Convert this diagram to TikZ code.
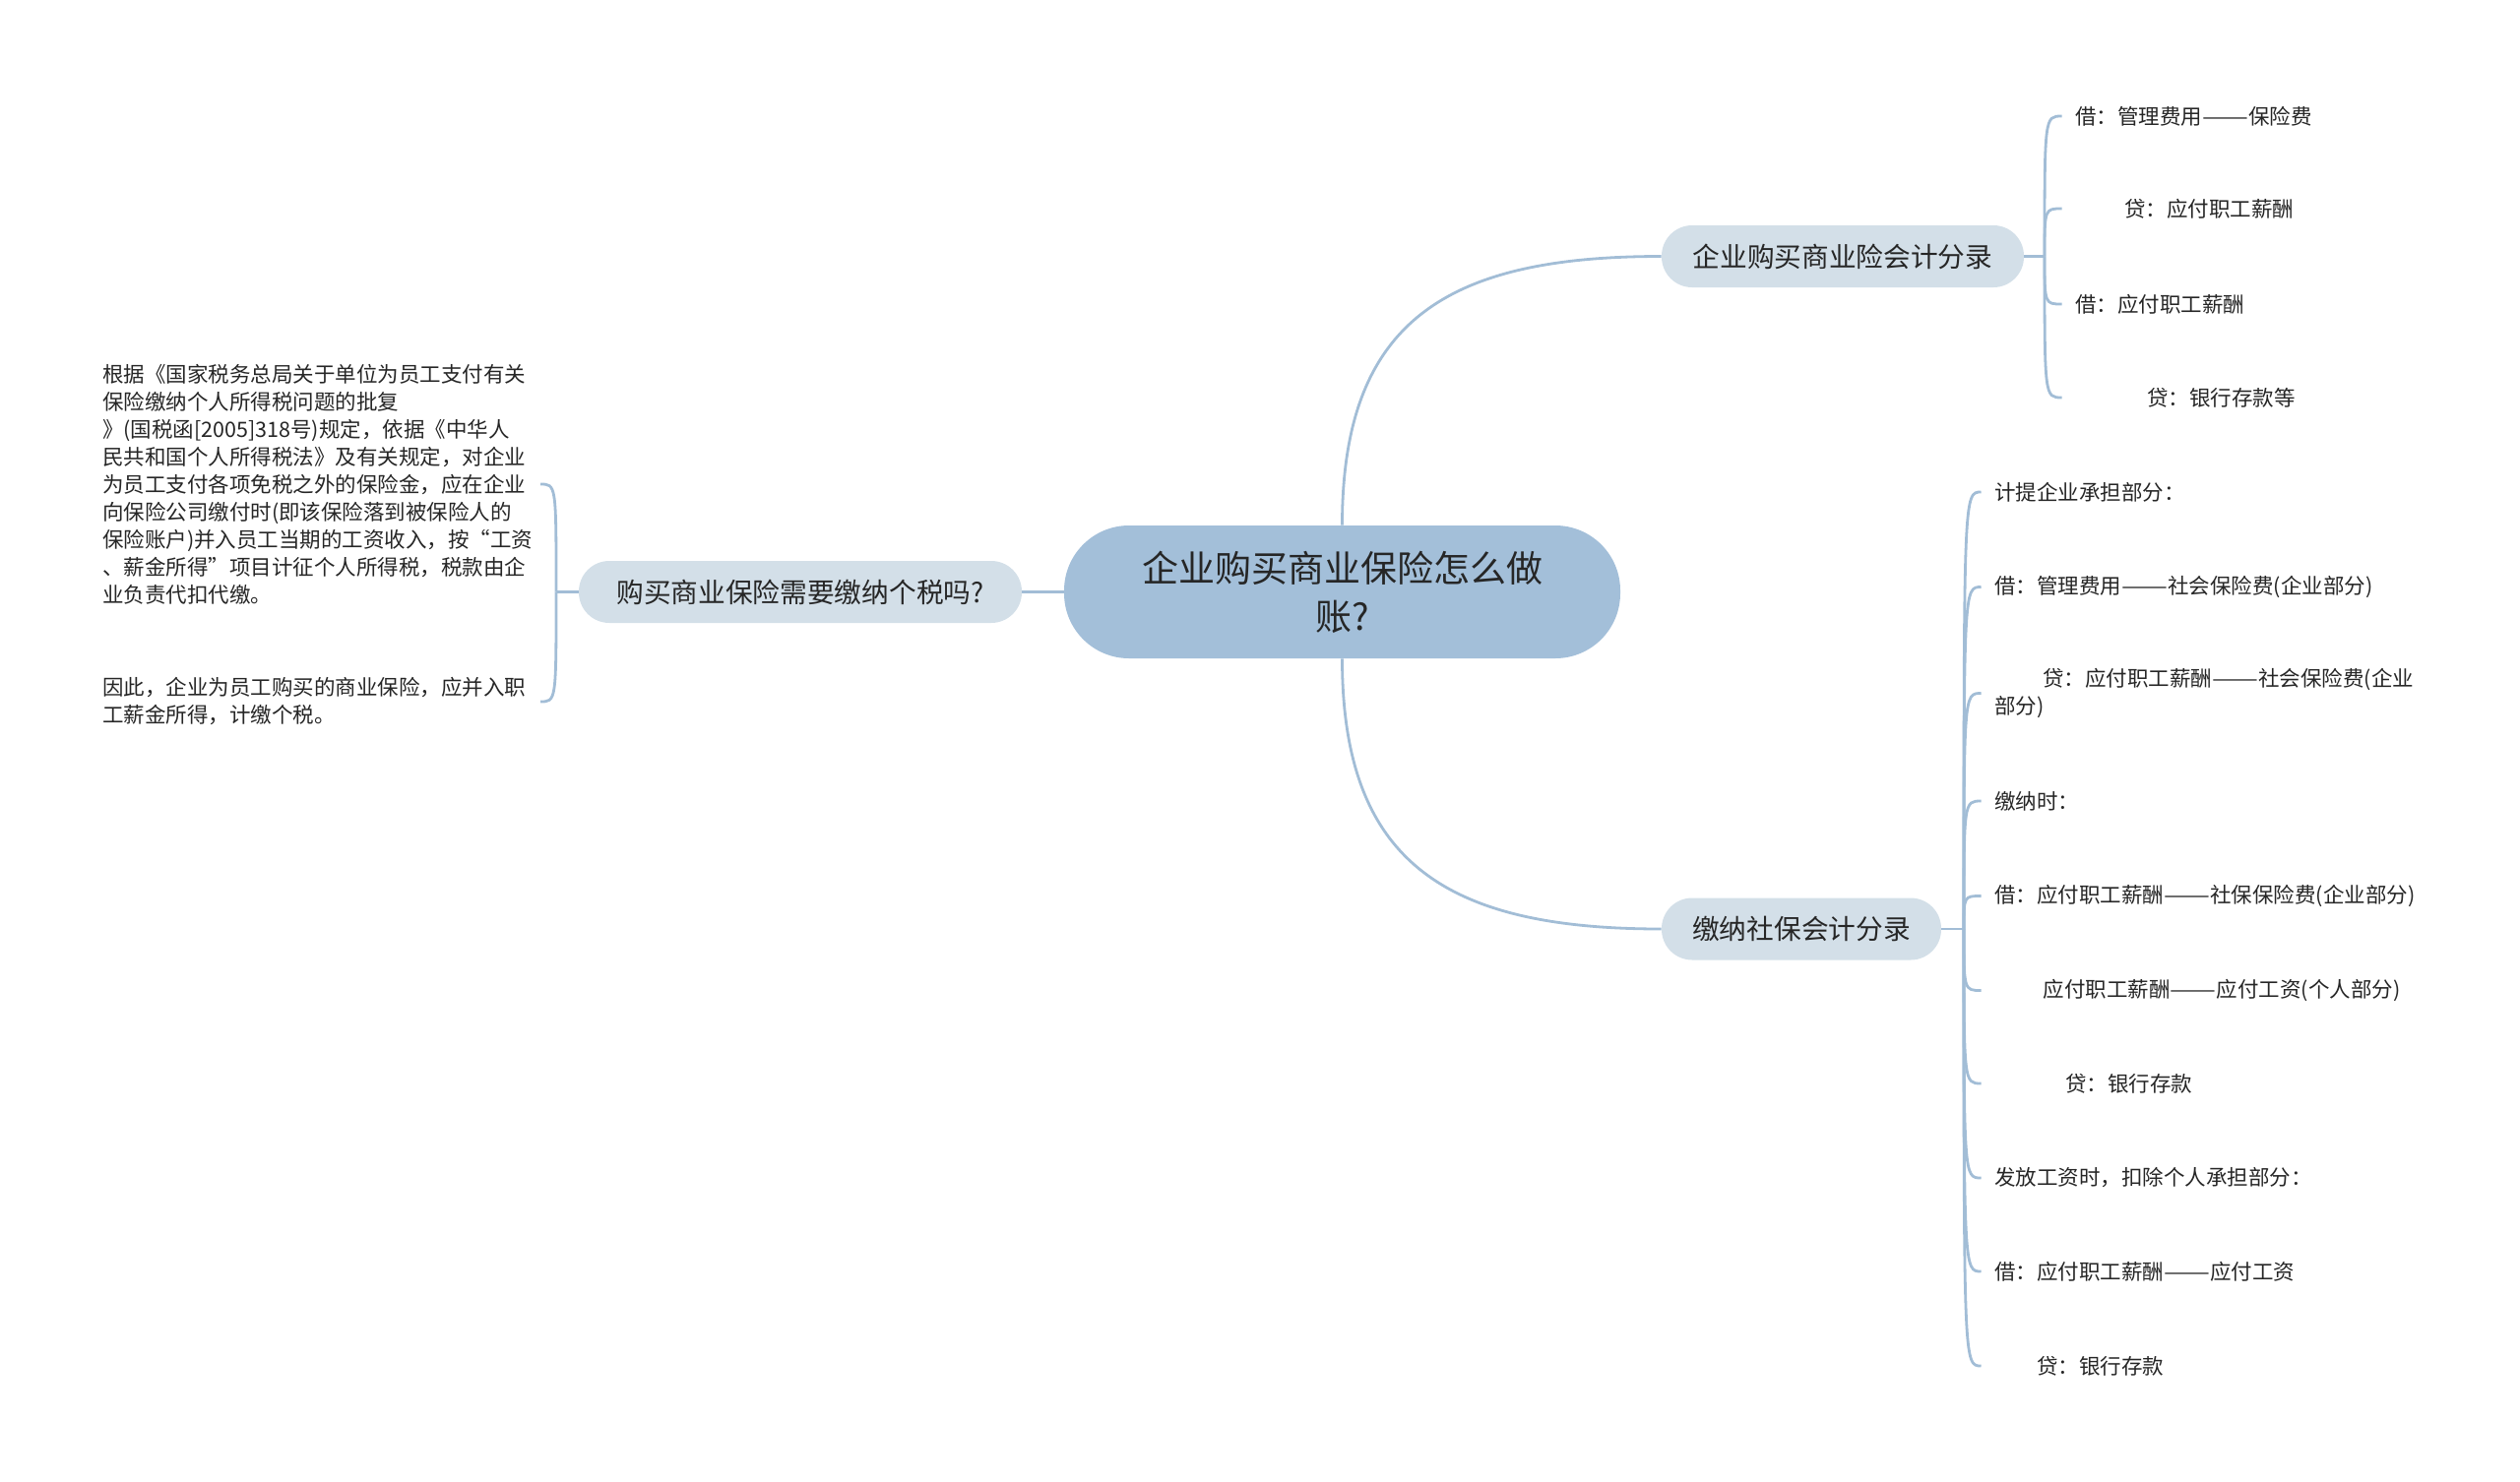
\documentclass[tikz,border=0pt]{standalone}
\usepackage{fontspec}
\usepackage{graphicx}
\setmainfont{Noto Sans CJK SC}
\newcommand{\dd}{\scalebox{1.3}[1]{——}}
\definecolor{linec}{HTML}{A2BDD6}
\definecolor{rootc}{HTML}{A3BFD9}
\definecolor{brc}{HTML}{D3DFE8}
\definecolor{txt}{HTML}{262626}
\begin{document}
\begin{tikzpicture}[x=0.5pt,y=-0.5pt,
  conn/.style={draw=linec, line width=1.4pt},
  rootnode/.style={fill=rootc, rounded corners=33pt, minimum width=282.5pt, minimum height=67.5pt, inner sep=0pt, align=center, font=\fontsize{18.5}{24.5}\selectfont, text=txt},
  branch/.style={fill=brc, rounded corners=15.5pt, minimum height=31.5pt, inner sep=0pt, font=\fontsize{13.85}{17}\selectfont, text=txt},
  leaf/.style={inner xsep=6.75pt, inner ysep=2pt, font=\fontsize{10.75}{14}\selectfont, text=txt, align=left}]
\useasboundingbox (0,0) rectangle (2560,1505);

% main nodes
\node[rootnode] (root) at (1363.5,601.5) {企业购买商业保险怎么做\\账?};
\node[branch, minimum width=184pt] (b1) at (1872,260.5) {企业购买商业险会计分录};
\node[branch, minimum width=142pt] (b2) at (1830,944) {缴纳社保会计分录};
\node[branch, minimum width=225pt] (b3) at (813,601.5) {购买商业保险需要缴纳个税吗?};

\draw[conn] (root.north) .. controls +(0,-207) and +(-219,0) .. (b1.west);
\draw[conn] (root.south) .. controls +(0,207) and +(-219,0) .. (b2.west);
\draw[conn] (root.west) -- (b3.east);

% branch 1 leaves
\coordinate (t1) at (2077,260.5);
\draw[conn] (b1.east) -- (t1);
\node[leaf, anchor=west] (l11) at (2094.5,118) {借：管理费用\dd 保险费};
\node[leaf, anchor=west] (l12) at (2094.5,212) {\hspace*{25pt}贷：应付职工薪酬};
\node[leaf, anchor=west] (l13) at (2094.5,309) {借：应付职工薪酬};
\node[leaf, anchor=west] (l14) at (2094.5,404) {\hspace*{36.5pt}贷：银行存款等};
\foreach \n in {l11,l12,l13,l14}
  \draw[conn] (t1) .. controls (t1 |- \n.west) and (t1 |- \n.west) .. (\n.west);

% branch 2 leaves
\coordinate (t2) at (1995,944);
\draw[conn] (b2.east) -- (t2);
\node[leaf, anchor=west] (l21) at (2012.5,500) {计提企业承担部分：};
\node[leaf, anchor=west] (l22) at (2012.5,596.5) {借：管理费用\dd 社会保险费(企业部分)};
\node[leaf, anchor=west] (l23) at (2012.5,704.5) {\hspace*{24.5pt}贷：应付职工薪酬\dd 社会保险费(企业\\部分)};
\node[leaf, anchor=west] (l24) at (2012.5,814) {缴纳时：};
\node[leaf, anchor=west] (l25) at (2012.5,910.5) {借：应付职工薪酬\dd 社保保险费(企业部分)};
\node[leaf, anchor=west] (l26) at (2012.5,1006.5) {\hspace*{24.75pt}应付职工薪酬\dd 应付工资(个人部分)};
\node[leaf, anchor=west] (l27) at (2012.5,1101) {\hspace*{36pt}贷：银行存款};
\node[leaf, anchor=west] (l28) at (2012.5,1197) {发放工资时，扣除个人承担部分：};
\node[leaf, anchor=west] (l29) at (2012.5,1292) {借：应付职工薪酬\dd 应付工资};
\node[leaf, anchor=west] (l2a) at (2012.5,1388) {\hspace*{21.5pt}贷：银行存款};
\foreach \n in {l21,l22,l23,l24,l25,l26,l27,l28,l29,l2a}
  \draw[conn] (t2) .. controls (t2 |- \n.west) and (t2 |- \n.west) .. (\n.west);

% left branch leaves
\coordinate (t3) at (565,601.5);
\draw[conn] (b3.west) -- (t3);
\node[leaf, anchor=east, text width=215.5pt] (l31) at (549,492) {根据《国家税务总局关于单位为员工支付有关\\保险缴纳个人所得税问题的批复\\》(国税函[2005]318号)规定，依据《中华人\\民共和国个人所得税法》及有关规定，对企业\\为员工支付各项免税之外的保险金，应在企业\\向保险公司缴付时(即该保险落到被保险人的\\保险账户)并入员工当期的工资收入，按“工资\\、薪金所得”项目计征个人所得税，税款由企\\业负责代扣代缴。};
\node[leaf, anchor=east, text width=215.5pt] (l32) at (549,713) {因此，企业为员工购买的商业保险，应并入职\\工薪金所得，计缴个税。};
\foreach \n in {l31,l32}
  \draw[conn] (t3) .. controls (t3 |- \n.east) and (t3 |- \n.east) .. (\n.east);
\end{tikzpicture}
\end{document}
